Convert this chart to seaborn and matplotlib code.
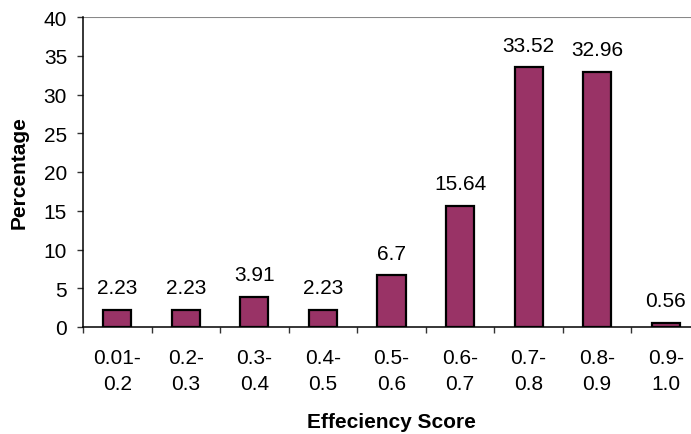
import matplotlib
matplotlib.use("Agg")
import matplotlib.pyplot as plt
import seaborn as sns
import pandas as pd

# Efficiency score bins and share of units falling in each bin
score_bins = ["0.01-\n0.2", "0.2-\n0.3", "0.3-\n0.4", "0.4-\n0.5", "0.5-\n0.6",
              "0.6-\n0.7", "0.7-\n0.8", "0.8-\n0.9", "0.9-\n1.0"]
percentages = [2.23, 2.23, 3.91, 2.23, 6.7, 15.64, 33.52, 32.96, 0.56]
value_labels = ["2.23", "2.23", "3.91", "2.23", "6.7", "15.64", "33.52", "32.96", "0.56"]
y_ticks = [0, 5, 10, 15, 20, 25, 30, 35, 40]

FS = 15

sns.set_style("white")
plt.rcParams["font.family"] = ["Liberation Sans", "DejaVu Sans"]
plt.rcParams["text.color"] = "black"
plt.rcParams["axes.labelcolor"] = "black"
plt.rcParams["xtick.color"] = "black"
plt.rcParams["ytick.color"] = "black"

df = pd.DataFrame({"bin": score_bins, "pct": percentages})

fig = plt.figure(figsize=(6.91, 4.35), dpi=100)
ax = fig.add_axes([83 / 691, 1 - 328 / 435, 617 / 691, 310 / 435])

sns.barplot(data=df, x="bin", y="pct", color="#993366", width=0.41,
            edgecolor="black", linewidth=1.6, saturation=1, ax=ax)

ax.set_ylim(0, 40)
ax.set_xlim(-0.5, len(score_bins) - 0.5)
ax.set_yticks(y_ticks)
ax.set_yticklabels([str(t) for t in y_ticks], fontsize=FS)

# category boundaries carry the tick marks, centres carry the labels
ax.set_xticks([i - 0.5 for i in range(len(score_bins) + 1)])
ax.set_xticklabels([])
ax.set_xticks(range(len(score_bins)), minor=True)
ax.set_xticklabels(score_bins, minor=True, fontsize=FS, linespacing=1.45)
ax.tick_params(axis="x", which="major", direction="out", length=4.5, width=1,
               color="#333333", bottom=True)
ax.tick_params(axis="x", which="minor", length=0, pad=15)
ax.tick_params(axis="y", direction="out", length=4.5, width=1,
               color="#333333", left=True, pad=7)

ax.axhline(40, color="#888888", linewidth=1.5, zorder=0)

for side in ["top", "right"]:
    ax.spines[side].set_visible(False)
for side in ["left", "bottom"]:
    ax.spines[side].set_color("black")
    ax.spines[side].set_linewidth(1.1)

for i, (v, lab) in enumerate(zip(percentages, value_labels)):
    ax.annotate(lab, xy=(i, v), xytext=(0, 9), textcoords="offset points",
                ha="center", va="bottom", fontsize=FS)

ax.set_xlabel("Effeciency Score", fontsize=FS, fontweight="bold")
ax.set_ylabel("Percentage", fontsize=FS, fontweight="bold")
ax.xaxis.set_label_coords(0.5, -(413 - 328) / 310)
ax.yaxis.set_label_coords(-(83 - 29) / 617, 0.5)

fig.savefig("out.png", dpi=100)
